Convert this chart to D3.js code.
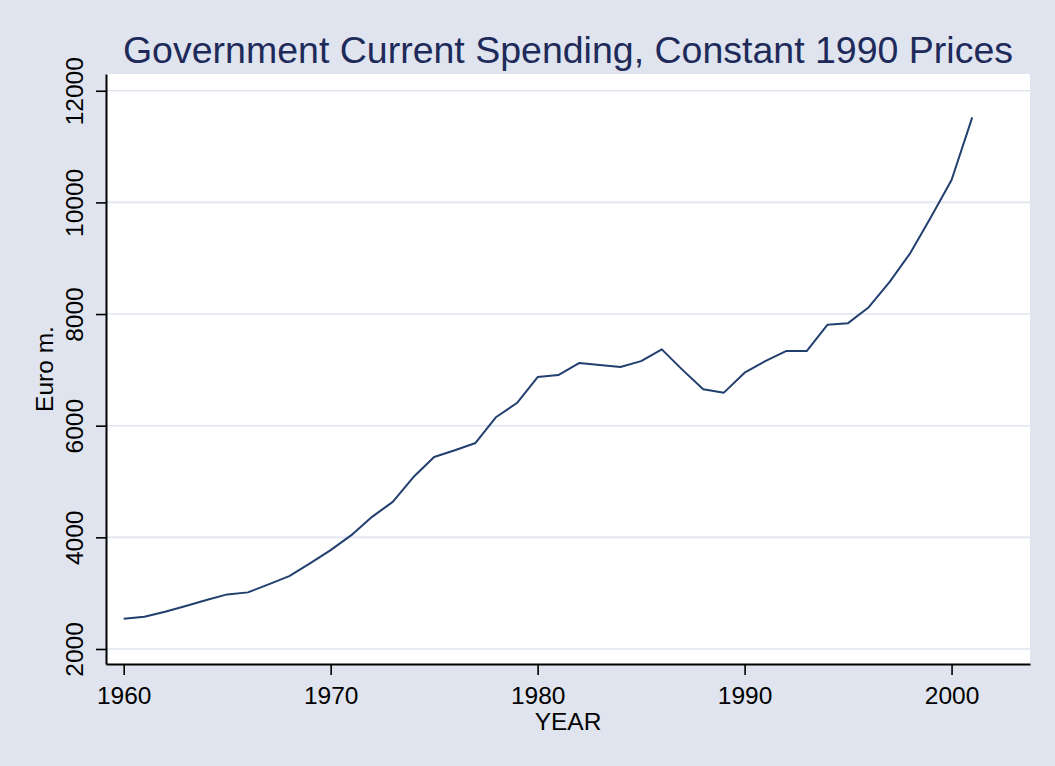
<!DOCTYPE html>
<html>
<head>
<meta charset="utf-8">
<script src="https://cdn.jsdelivr.net/npm/d3@7"></script>
<style>
  body { margin: 0; background: #dfe4ee; }
  svg { display: block; font-family: "Liberation Sans", Arial, sans-serif; }
</style>
</head>
<body>
<svg id="chart" width="1055" height="766"></svg>
<script>
// values
var years = [1960, 1961, 1962, 1963, 1964, 1965, 1966, 1967, 1968, 1969,
             1970, 1971, 1972, 1973, 1974, 1975, 1976, 1977, 1978, 1979,
             1980, 1981, 1982, 1983, 1984, 1985, 1986, 1987, 1988, 1989,
             1990, 1991, 1992, 1993, 1994, 1995, 1996, 1997, 1998, 1999,
             2000, 2001];
var spending = [2542, 2578, 2667, 2769, 2877, 2978, 3014, 3157, 3306, 3533,
                3771, 4039, 4367, 4635, 5080, 5440, 5560, 5691, 6156, 6406,
                6871, 6907, 7122, 7086, 7050, 7157, 7367, 7000, 6651, 6592,
                6950, 7157, 7336, 7336, 7808, 7837, 8123, 8571, 9089, 9733,
                10402, 11522];
var xTicks = [1960, 1970, 1980, 1990, 2000];
var yTicks = [2000, 4000, 6000, 8000, 10000, 12000];

var title = "Government Current Spending, Constant 1990 Prices",
    xTitle = "YEAR",
    yTitle = "Euro m.";

var svg = d3.select("#chart");

var pLeft = 106, pRight = 1030, pTop = 74, pBottom = 664;

var x = d3.scaleLinear()
  .domain([1959.145, 2003.79])
  .range([pLeft, pRight]);

var y = d3.scaleLinear()
  .domain([1731, 12300])
  .range([pBottom, pTop]);

// plot region
svg.append("rect")
  .attr("x", pLeft)
  .attr("y", pTop)
  .attr("width", pRight - pLeft)
  .attr("height", pBottom - pTop)
  .attr("fill", "#ffffff");

// grid
svg.append("g")
  .selectAll("line")
  .data(yTicks)
  .enter().append("line")
  .attr("x1", pLeft)
  .attr("x2", pRight)
  .attr("y1", function(d){ return y(d); })
  .attr("y2", function(d){ return y(d); })
  .attr("stroke", "#dfe4ee")
  .attr("stroke-width", 1.6);

// series
var line = d3.line()
  .x(function(d, i){ return x(years[i]); })
  .y(function(d){ return y(d); });

svg.append("path")
  .attr("d", line(spending))
  .attr("fill", "none")
  .attr("stroke", "#213f6f")
  .attr("stroke-width", 2)
  .attr("stroke-linejoin", "round");

// axes
var yAxis = svg.append("g")
  .attr("transform", "translate(" + pLeft + ",0)")
  .call(d3.axisLeft(y).tickValues(yTicks).tickFormat(d3.format("d")).tickSize(10).tickSizeOuter(0));

yAxis.selectAll("text")
  .attr("transform", "rotate(-90)")
  .attr("x", 0)
  .attr("y", -23)
  .attr("dy", 0)
  .style("text-anchor", "middle");

var xAxis = svg.append("g")
  .attr("transform", "translate(0," + pBottom + ")")
  .call(d3.axisBottom(x).tickValues(xTicks).tickFormat(d3.format("d")).tickSize(11).tickSizeOuter(0));

xAxis.selectAll("text")
  .attr("y", 40)
  .attr("dy", 0);

svg.selectAll(".tick text")
  .attr("fill", "#000")
  .style("font-size", "24.5px")
  .style("font-family", "'Liberation Sans', Arial, sans-serif");

svg.selectAll(".tick line")
  .attr("stroke", "#000")
  .attr("stroke-width", 1.6);

svg.selectAll(".domain")
  .attr("stroke", "#000")
  .attr("stroke-width", 2);

// titles
svg.append("text")
  .attr("x", (pLeft + pRight) / 2)
  .attr("y", 63)
  .attr("text-anchor", "middle")
  .attr("fill", "#1e2a5a")
  .style("font-size", "37.5px")
  .text(title);

svg.append("text")
  .attr("x", (pLeft + pRight) / 2)
  .attr("y", 730)
  .attr("text-anchor", "middle")
  .attr("fill", "#000")
  .style("font-size", "24.5px")
  .text(xTitle);

svg.append("text")
  .attr("transform", "translate(53," + ((pTop + pBottom) / 2) + ") rotate(-90)")
  .attr("text-anchor", "middle")
  .attr("fill", "#000")
  .style("font-size", "24.5px")
  .text(yTitle);
</script>
</body>
</html>
